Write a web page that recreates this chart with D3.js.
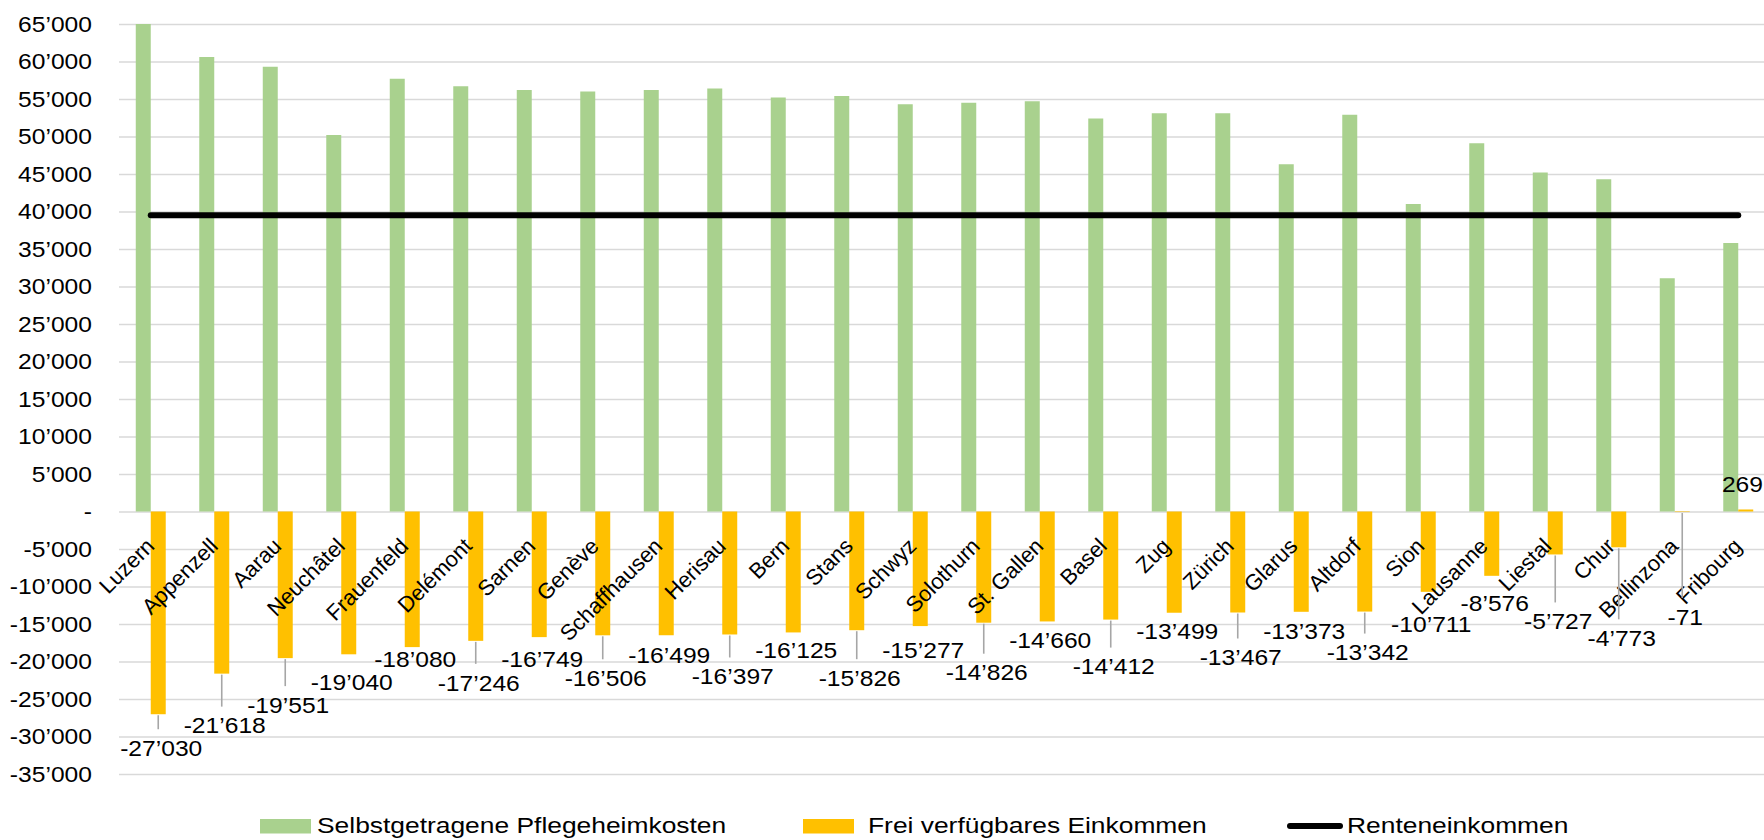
<!DOCTYPE html>
<html>
<head>
<meta charset="utf-8">
<script src="https://cdn.jsdelivr.net/npm/d3@7"></script>
<style>
  body { margin: 0; background: #fff; }
  svg text { font-family: "Liberation Sans", Arial, sans-serif; fill: #000; }
</style>
</head>
<body>
<div id="chart"></div>
<script>
// Data
const cities = ["Luzern", "Appenzell", "Aarau", "Neuchâtel", "Frauenfeld", "Delémont", "Sarnen", "Genève",
  "Schaffhausen", "Herisau", "Bern", "Stans", "Schwyz", "Solothurn", "St. Gallen", "Basel", "Zug", "Zürich",
  "Glarus", "Altdorf", "Sion", "Lausanne", "Liestal", "Chur", "Bellinzona", "Fribourg"];

const pflegeheimkosten = [65000, 60600, 59300, 50200, 57700, 56700, 56200, 56000, 56200, 56400, 55200, 55400,
  54300, 54500, 54700, 52400, 53100, 53100, 46300, 52900, 41000, 49100, 45200, 44300, 31100, 35800];

const freiEinkommen = [-27030, -21618, -19551, -19040, -18080, -17246, -16749, -16506, -16499, -16397, -16125,
  -15826, -15277, -14826, -14660, -14412, -13499, -13467, -13373, -13342, -10711, -8576, -5727, -4773, -71, 269];

const renteneinkommen = [39500, 39500, 39500, 39500, 39500, 39500, 39500, 39500, 39500, 39500, 39500, 39500,
  39500, 39500, 39500, 39500, 39500, 39500, 39500, 39500, 39500, 39500, 39500, 39500, 39500, 39500];

const yTicks = [-35000, -30000, -25000, -20000, -15000, -10000, -5000, 0, 5000, 10000, 15000, 20000, 25000,
  30000, 35000, 40000, 45000, 50000, 55000, 60000, 65000];

const legendLabels = ["Selbstgetragene Pflegeheimkosten", "Frei verfügbares Einkommen", "Renteneinkommen"];

// layout: how far each data label was dragged below its bar end (px)
const labelDrop = [34, 52, 47, 28, 12, 42, 22, 43, 20, 42, 18, 48, 24, 50, 19, 47, 19, 45, 19, 41, 32, 27, 67, 91, 105, -25];

const W = 1764, H = 840;
const plotLeft = 119, plotRight = 1770;
const green = "#a9d18e", orange = "#ffc000", grid = "#d9d9d9";
const fontSize = 22, stretch = 1.12;

const locale = d3.formatLocale({ decimal: ".", thousands: "’", grouping: [3], currency: ["", ""], minus: "-" });
const fmt = locale.format(",d");

const svg = d3.select("#chart")
  .append("svg")
  .attr("width", W)
  .attr("height", H)
  .style("display", "block");

const x0 = d3.scaleBand().domain(cities).range([plotLeft, plotRight]).paddingInner(0.528).paddingOuter(0.264);
const x1 = d3.scaleBand().domain(["kosten", "frei"]).range([0, x0.bandwidth()]);
const y = d3.scaleLinear().domain([-35000, 65000]).range([774, 24]);

// gridlines
const gridAxis = svg.append("g")
  .attr("transform", `translate(${plotLeft},0)`)
  .call(d3.axisLeft(y).tickValues(yTicks).tickSize(-(plotRight - plotLeft)).tickFormat(""));
gridAxis.select(".domain").remove();
gridAxis.selectAll("line").attr("stroke", grid).attr("stroke-width", 1.6);

// y labels
const yAxis = svg.append("g")
  .attr("transform", `translate(${plotLeft},0)`)
  .call(d3.axisLeft(y).tickValues(yTicks).tickSize(0).tickFormat(d => d === 0 ? "-" : fmt(d)));
yAxis.select(".domain").remove();
yAxis.selectAll("text")
  .attr("x", 0)
  .attr("transform", `translate(-27,0) scale(${stretch},1)`)
  .style("font-size", fontSize + "px")
  .style("font-family", "'Liberation Sans', Arial, sans-serif");

// bars
svg.append("g").selectAll("rect")
  .data(cities)
  .join("rect")
  .attr("x", c => x0(c) + x1("kosten"))
  .attr("y", (c, i) => y(pflegeheimkosten[i]))
  .attr("width", x1.bandwidth())
  .attr("height", (c, i) => y(0) - y(pflegeheimkosten[i]))
  .attr("fill", green);

svg.append("g").selectAll("rect")
  .data(cities)
  .join("rect")
  .attr("x", c => x0(c) + x1("frei"))
  .attr("y", (c, i) => y(Math.max(0, freiEinkommen[i])))
  .attr("width", x1.bandwidth())
  .attr("height", (c, i) => Math.abs(y(freiEinkommen[i]) - y(0)))
  .attr("fill", orange);

// category labels
svg.append("g").selectAll("text")
  .data(cities)
  .join("text")
  .attr("text-anchor", "end")
  .attr("transform", c => `translate(${x0(c) + x0.bandwidth() / 2 + 5},${y(0) + 36}) rotate(-45)`)
  .style("font-size", fontSize + "px")
  .text(c => c);

// Renteneinkommen line
const line = d3.line()
  .x(d => x0(d.city) + x0.bandwidth() / 2)
  .y(d => y(d.value));

svg.append("path")
  .datum(cities.map((c, i) => ({ city: c, value: renteneinkommen[i] })))
  .attr("d", line)
  .attr("fill", "none")
  .attr("stroke", "#000")
  .attr("stroke-width", 6)
  .attr("stroke-linecap", "round");

// data labels with leader lines
const labels = svg.append("g");
cities.forEach((c, i) => {
  const v = freiEinkommen[i];
  const cx = x0(c) + x1("frei") + x1.bandwidth() / 2;
  const end = y(v);
  const cy = end + labelDrop[i];
  if (labelDrop[i] >= 34) {
    labels.append("line")
      .attr("x1", cx).attr("x2", cx)
      .attr("y1", end + 1).attr("y2", cy - 19)
      .attr("stroke", "#a6a6a6")
      .attr("stroke-width", 1.6);
  }
  let lx = cx + 3;
  const txt = labels.append("text")
    .attr("text-anchor", "middle")
    .attr("dy", "0.35em")
    .attr("transform", `translate(${lx},${cy}) scale(${stretch},1)`)
    .style("font-size", fontSize + "px")
    .text(fmt(v));
  // keep labels inside the picture, like Excel does
  const box = txt.node().getBoundingClientRect();
  if (box.right > W - 1) {
    lx -= box.right - (W - 1);
    txt.attr("transform", `translate(${lx},${cy}) scale(${stretch},1)`);
  }
});

// legend
const legend = svg.append("g");
legend.append("rect").attr("x", 260).attr("y", 819).attr("width", 51).attr("height", 14.5).attr("fill", green);
legend.append("rect").attr("x", 803).attr("y", 819).attr("width", 51).attr("height", 14.5).attr("fill", orange);
legend.append("line")
  .attr("x1", 1290).attr("x2", 1340).attr("y1", 826).attr("y2", 826)
  .attr("stroke", "#000").attr("stroke-width", 6).attr("stroke-linecap", "round");

const legendX = [317, 868, 1347];
legendLabels.forEach((t, i) => {
  legend.append("text")
    .attr("transform", `translate(${legendX[i]},833) scale(1.2,1)`)
    .style("font-size", fontSize + "px")
    .text(t);
});
</script>
</body>
</html>
